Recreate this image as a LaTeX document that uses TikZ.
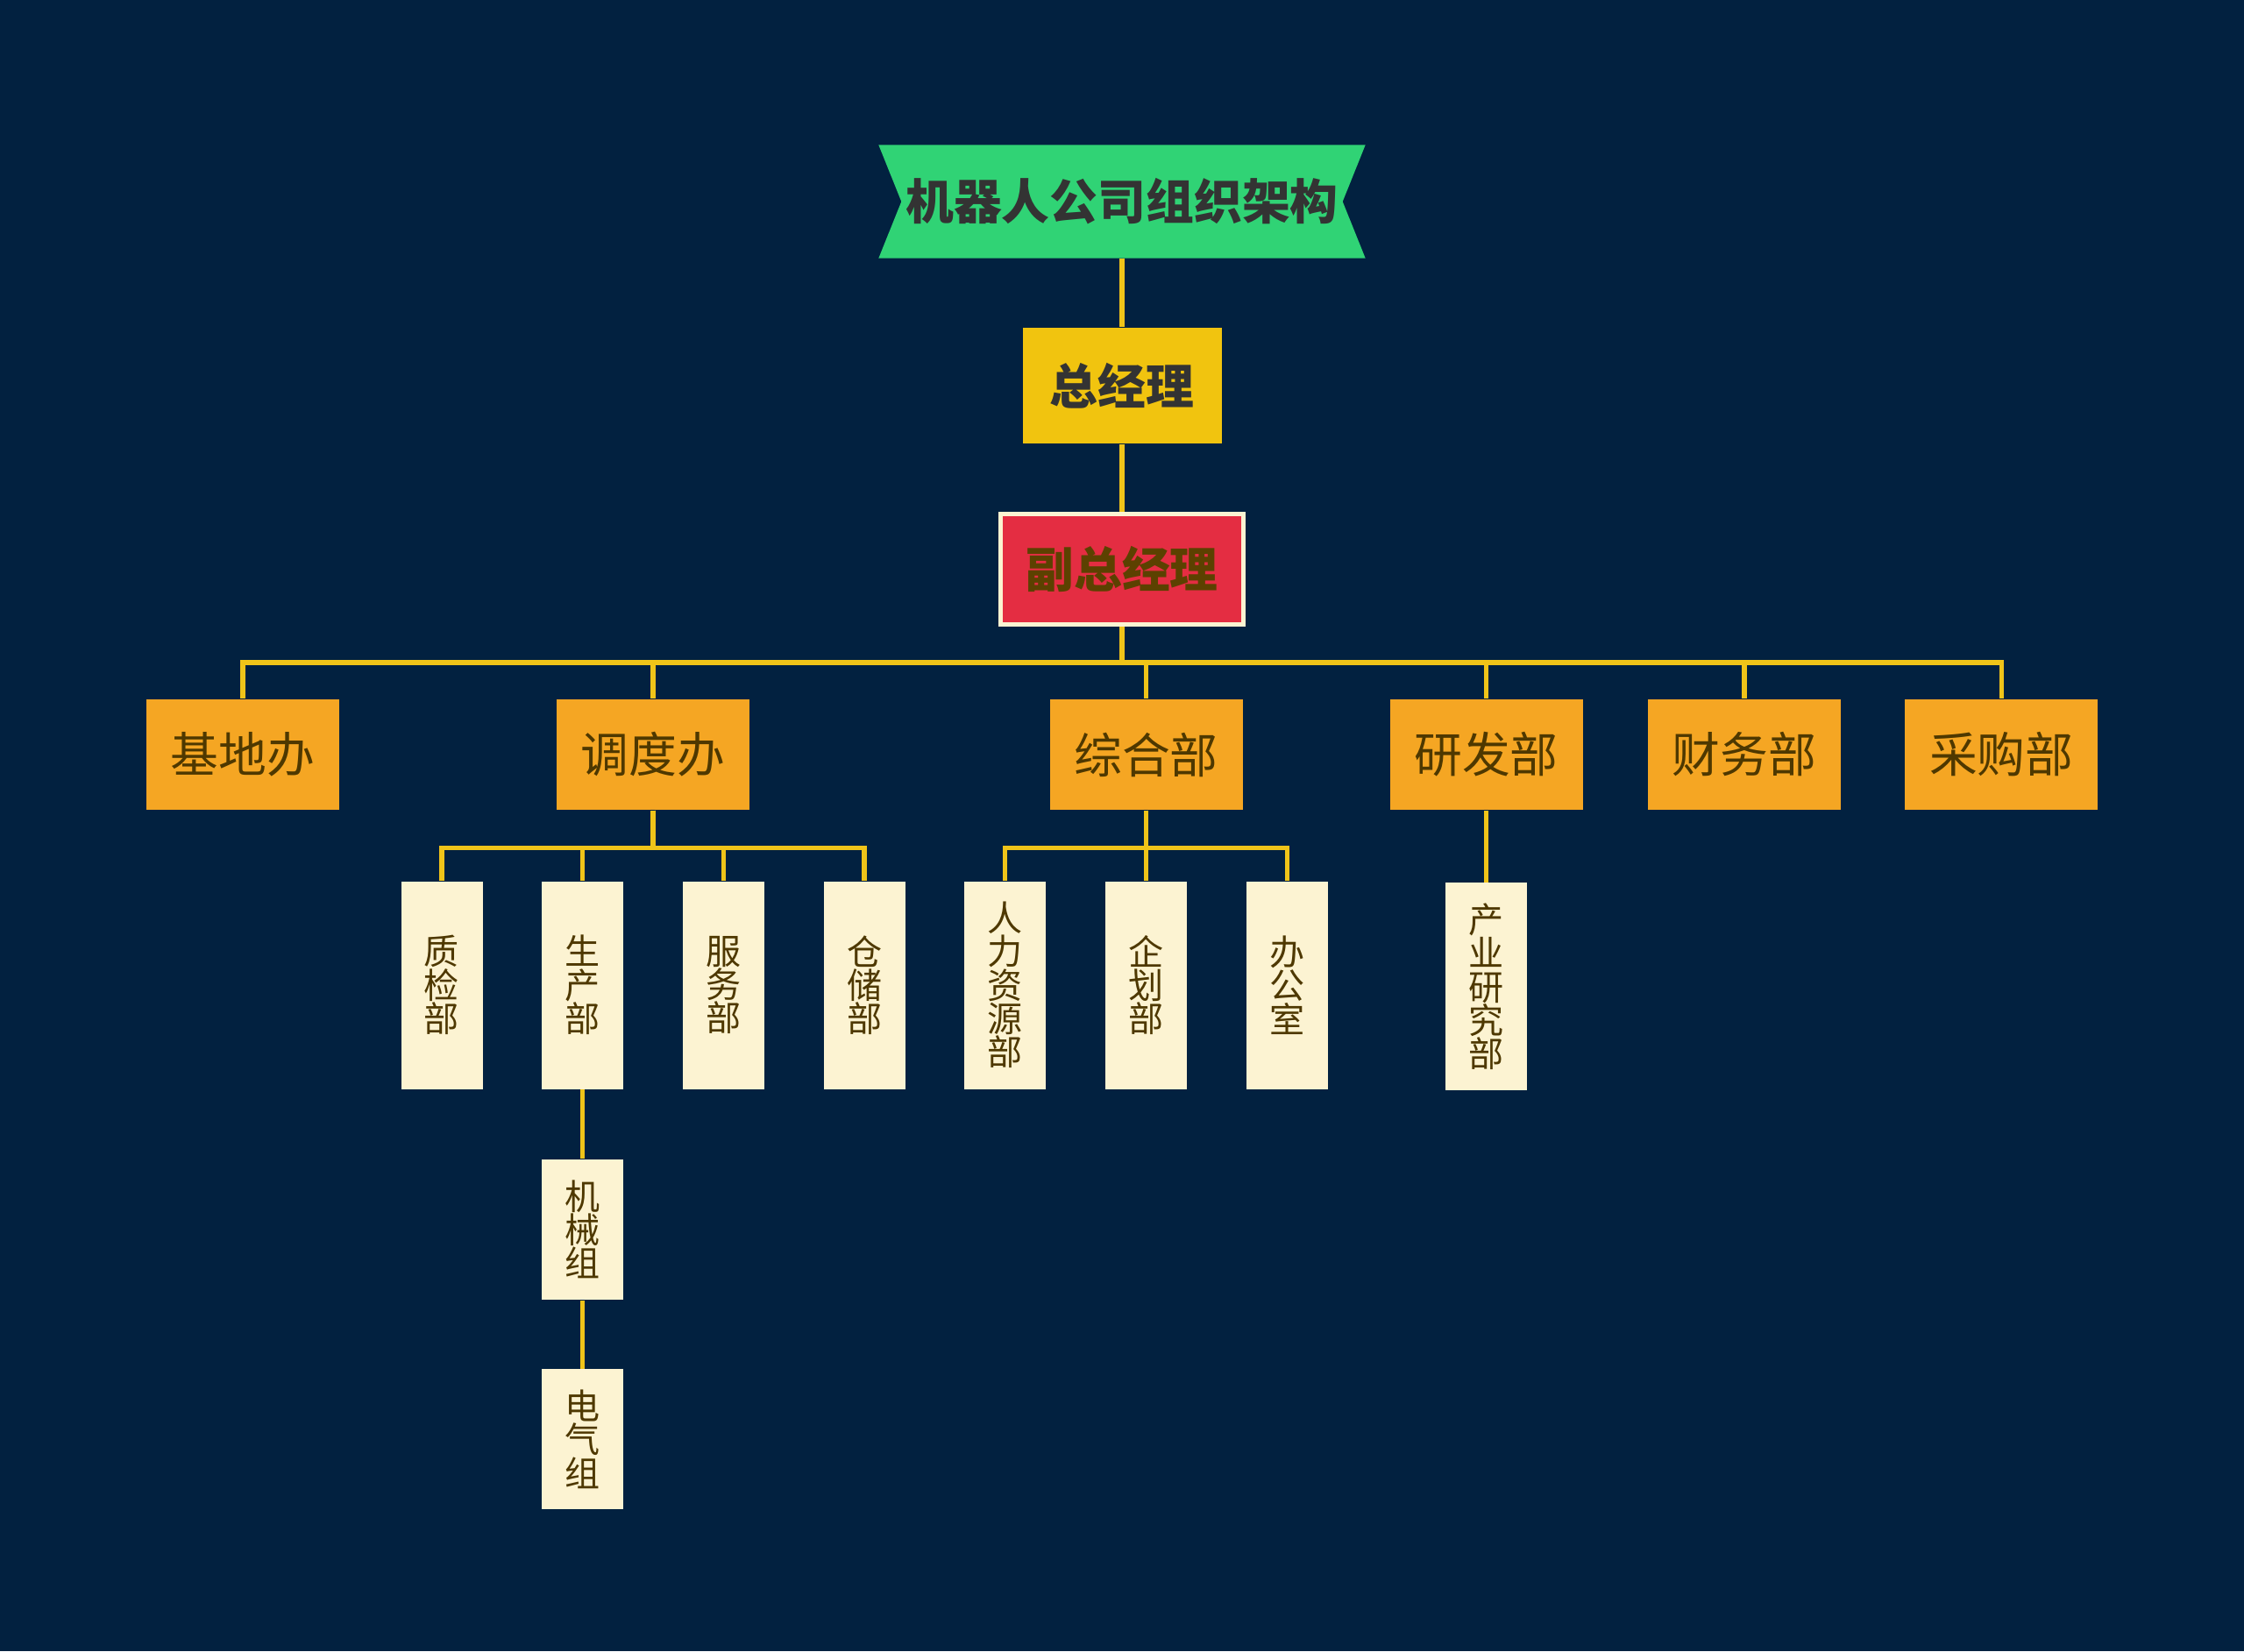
\documentclass[tikz,border=0pt]{standalone}
\usepackage{fontspec}
\usetikzlibrary{positioning,backgrounds}
\newfontfamily\cjk{Noto Sans CJK SC}
\definecolor{NightBlue}{HTML}{022140}
\definecolor{Mint}{HTML}{30D375}
\definecolor{Gold}{HTML}{F1C40F}
\definecolor{Crimson}{HTML}{E42D42}
\definecolor{Cream}{HTML}{FCF3D2}
\definecolor{Amber}{HTML}{F5A623}
\definecolor{Umber}{HTML}{4E3800}
\definecolor{Olive}{HTML}{5C4100}
\definecolor{DarkGray}{HTML}{333333}
\definecolor{LinkYellow}{HTML}{F0C419}

\begin{document}
\begin{tikzpicture}[node distance=.663cm,
    head/.style={inner sep=0pt,text=DarkGray,font=\cjk\bfseries\fontsize{15.6pt}{18pt}\selectfont},
    dept/.style={inner sep=0pt,fill=Amber,text=Umber,minimum width=2.2cm,minimum height=1.26cm,
                 font=\cjk\fontsize{15.6pt}{18pt}\selectfont},
    unit/.style={inner sep=0pt,fill=Cream,text=Umber,minimum width=.93cm,minimum height=2.37cm,
                 align=center,font=\cjk\fontsize{11.4pt}{10.9pt}\selectfont},
    group/.style={unit,minimum height=1.6cm},
    link/.style={draw=LinkYellow,line width=1.5pt}]
    \node[head,minimum width=5.54cm,minimum height=1.28cm] (title) at (12.8,-2.3) {机器人公司组织架构};
    \node[head,fill=Gold,minimum width=2.27cm,minimum height=1.32cm] (ceo) at (12.8,-4.4) {总经理};
    \node[head,fill=Crimson,draw=Cream,line width=.5mm,text=Olive,minimum width=2.77cm,minimum height=1.26cm] (vp) at (12.8,-6.495) {副总经理};

    \node[dept] (jidi) at (2.77,-8.61) {基地办};
    \node[dept] (diaodu) at (7.45,-8.61) {调度办};
    \node[dept] (zonghe) at (13.075,-8.61) {综合部};
    \node[dept] (yanfa) at (16.955,-8.61) {研发部};
    \node[dept,right=.73cm of yanfa] (caiwu) {财务部};
    \node[dept,right=.72cm of caiwu] (caigou) {采购部};

    \node[unit] (zhijian) at (5.04,-11.24) {质\\检\\部};
    \node[unit,right=of zhijian] (shengchan) {生\\产\\部};
    \node[unit,right=of shengchan] (fuwu) {服\\务\\部};
    \node[unit,right=of fuwu] (cangchu) {仓\\储\\部};
    \node[unit,right=of cangchu] (renli) {人\\力\\资\\源\\部};
    \node[unit,right=of renli] (qihua) {企\\划\\部};
    \node[unit,right=of qihua] (bangong) {办\\公\\室};
    \node[unit,below=.82cm of yanfa] (chanye) {产\\业\\研\\究\\部};
    \node[group,below=.79cm of shengchan] (jixie) {机\\械\\组};
    \node[group,below=.78cm of jixie] (dianqi) {电\\气\\组};

    \draw[link] (title) -- (ceo);
    \draw[link] (ceo) -- (vp);
    \foreach \d in {jidi,diaodu,zonghe,yanfa,caiwu,caigou}
      \draw[link] (vp.south) -- ++(0,-.41) -| (\d.north);
    \foreach \u in {zhijian,shengchan,fuwu,cangchu}
      \draw[link] (diaodu.south) -- ++(0,-.425) -| (\u.north);
    \foreach \u in {renli,qihua,bangong}
      \draw[link] (zonghe.south) -- ++(0,-.425) -| (\u.north);
    \draw[link] (yanfa) -- (chanye);
    \draw[link] (shengchan) -- (jixie);
    \draw[link] (jixie) -- (dianqi);

    \begin{scope}[on background layer]
      \fill[NightBlue] (0,0) rectangle (25.6,-18.84);
      \fill[Mint] (title.north west) -- (title.north east) -- ([xshift=-2.6mm]title.east)
        -- (title.south east) -- (title.south west) -- ([xshift=2.6mm]title.west) -- cycle;
    \end{scope}
  \end{tikzpicture}
\end{document}
